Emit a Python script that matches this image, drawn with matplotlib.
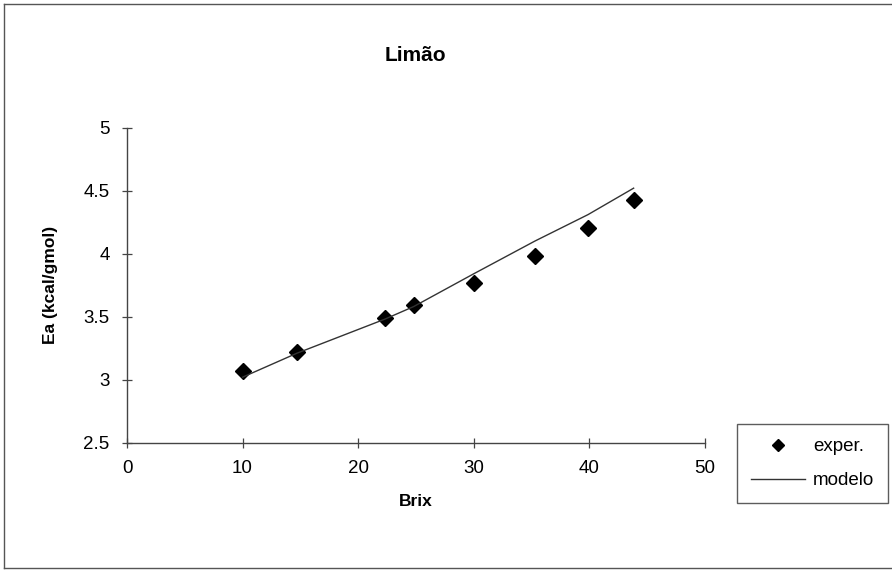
import matplotlib
matplotlib.use("Agg")
import matplotlib.pyplot as plt
from matplotlib.lines import Line2D

plt.rcParams['font.family'] = ['Liberation Sans', 'DejaVu Sans']

# ---------------------------------------------------------------
# Data: activation energy vs soluble solids (lemon juice)
# ---------------------------------------------------------------
brix_exp = [10.0, 14.7, 22.3, 24.8, 30.0, 35.3, 39.9, 43.85]
ea_exp = [3.07, 3.22, 3.49, 3.59, 3.77, 3.98, 4.20, 4.43]

brix_mod = [10.0, 14.7, 22.3, 24.8, 30.0, 35.3, 39.9, 43.85]
ea_mod = [3.02, 3.21, 3.48, 3.58, 3.84, 4.10, 4.31, 4.52]

x_ticks = [0, 10, 20, 30, 40, 50]
y_ticks = [2.5, 3, 3.5, 4, 4.5, 5]

# ---------------------------------------------------------------
# Plot
# ---------------------------------------------------------------
fig = plt.figure(figsize=(8.92, 5.70), dpi=100)
ax = fig.add_axes([0.1424, 0.2233, 0.6476, 0.5527])

ax.plot(brix_exp, ea_exp, linestyle='none', marker='D', markersize=8,
        color='black', label='exper.')
ax.plot(brix_mod, ea_mod, color='#333333', linewidth=1.0, label='modelo')

ax.set_xlim(0, 50)
ax.set_ylim(2.5, 5)
ax.set_xticks(x_ticks)
ax.set_xticklabels([str(v) for v in x_ticks])
ax.set_yticks(y_ticks)
ax.set_yticklabels([f'{v:g}' for v in y_ticks])

for side in ['top', 'right']:
    ax.spines[side].set_visible(False)
for side in ['left', 'bottom']:
    ax.spines[side].set_color('#444444')
    ax.spines[side].set_linewidth(1.0)

ax.tick_params(direction='inout', length=7, width=0.9, color='#444444',
               labelsize=13.5, pad=9)

ax.set_title('Limão', fontsize=15, fontweight='bold', pad=48)
ax.set_xlabel('Brix', fontsize=12.5, fontweight='bold', labelpad=12)
ax.set_ylabel('Ea (kcal/gmol)', fontsize=12.5, fontweight='bold', labelpad=18)

leg = fig.legend(loc='upper left', bbox_to_anchor=(737 / 892, 1 - 424 / 570),
                 borderaxespad=0, frameon=True, fancybox=False, fontsize=13.5,
                 handlelength=2.9, handletextpad=0.4, borderpad=0.75,
                 labelspacing=0.9, markerscale=0.75)
leg.get_frame().set_edgecolor('#333333')
leg.get_frame().set_linewidth(1.0)

# outer chart frame
frame_kw = dict(color='#555555', linewidth=1.0, transform=fig.transFigure)
fig.add_artist(Line2D([4 / 892, 1.0], [1 - 4 / 570, 1 - 4 / 570], **frame_kw))
fig.add_artist(Line2D([4 / 892, 4 / 892], [1 - 4 / 570, 1 - 568 / 570], **frame_kw))
fig.add_artist(Line2D([4 / 892, 1.0], [1 - 568 / 570, 1 - 568 / 570], **frame_kw))

fig.savefig('out.png', dpi=100)
